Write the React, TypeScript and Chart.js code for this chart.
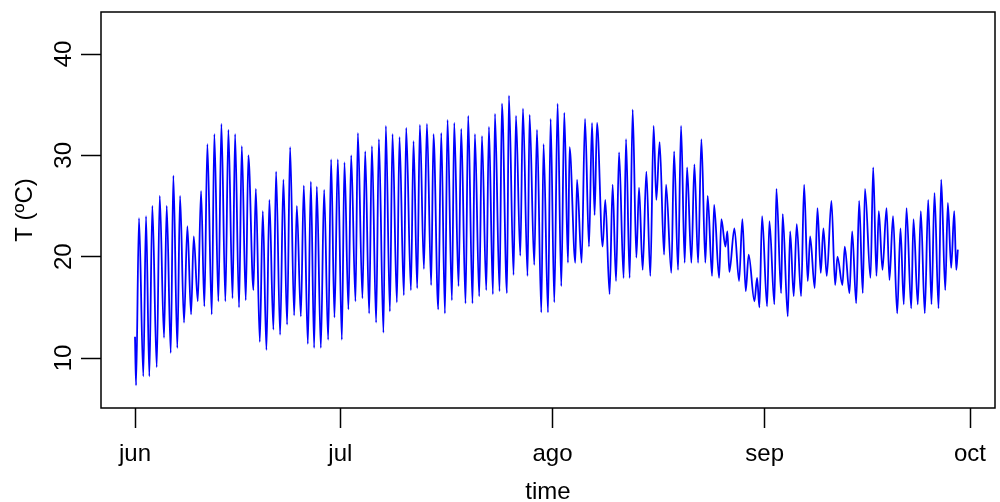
import React, { useEffect, useRef } from 'react';
import { Chart, registerables } from 'chart.js';

Chart.register(...registerables);

// Time since 1 June, in days (turning points of the hourly temperature trace)
const dayOffsets = [
  0.00, 0.15, 0.58, 1.21, 1.61, 2.09, 2.53, 3.17, 3.61, 4.24,
  4.63, 5.22, 5.60, 6.18, 6.58, 7.16, 7.65, 8.19, 8.58, 9.17,
  9.65, 10.13, 10.57, 11.21, 11.59, 12.18, 12.62, 13.20, 13.64, 14.25,
  14.62, 15.20, 15.60, 16.18, 16.56, 17.30, 17.65, 18.23, 18.67, 19.20,
  19.63, 20.22, 20.61, 21.20, 21.68, 22.22, 22.66, 23.25, 23.64, 24.23,
  24.66, 25.25, 25.69, 26.17, 26.56, 27.15, 27.63, 28.22, 28.65, 29.14,
  29.63, 30.22, 30.60, 31.18, 31.58, 32.21, 32.56, 33.23, 33.63, 34.21,
  34.61, 35.23, 35.63, 36.30, 36.65, 37.24, 37.62, 38.26, 38.64, 39.28,
  39.62, 40.31, 40.69, 41.23, 41.62, 42.21, 42.65, 43.27, 43.61, 44.30,
  44.74, 45.28, 45.66, 46.30, 46.64, 47.27, 47.66, 48.29, 48.68, 49.31,
  49.66, 50.29, 50.69, 51.32, 51.71, 52.29, 52.59, 53.26, 53.61, 54.34,
  54.63, 55.31, 55.66, 56.29, 56.68, 57.35, 57.65, 58.33, 58.73, 59.36,
  59.69, 60.34, 60.72, 61.26, 61.74, 62.28, 62.72, 63.26, 63.49, 64.33,
  64.58, 65.25, 65.75, 66.33, 66.77, 67.15, 67.50, 68.32, 68.71, 69.34,
  69.78, 70.28, 70.72, 71.39, 71.74, 72.27, 72.71, 73.25, 73.64, 74.17,
  74.71, 75.29, 75.77, 76.17, 76.65, 77.30, 77.59, 78.36, 78.76, 79.34,
  79.78, 80.31, 80.66, 81.29, 81.73, 82.27, 82.75, 83.33, 83.67, 84.31,
  84.61, 85.34, 85.67, 86.26, 86.55, 86.84, 87.57, 88.26, 88.74, 89.23,
  89.66, 90.50, 90.89, 91.23, 91.62, 92.35, 92.69, 93.42, 93.71, 94.40,
  94.63, 95.37, 95.72, 96.24, 96.68, 97.32, 97.76, 98.29, 98.64, 99.31,
  99.71, 100.19, 100.58, 101.07, 101.75, 102.29, 102.63, 103.36, 103.70, 104.39,
  104.78, 105.37, 105.80, 106.33, 106.65, 107.46, 107.85, 108.33, 108.67, 109.21,
  109.80, 110.23, 110.75, 111.36, 111.84, 112.32, 112.72, 113.41, 113.74, 114.37,
  114.81, 115.39, 115.89, 116.37, 116.81, 117.40, 117.79, 118.38, 118.76, 119.25,
  119.69, 119.99, 120.22,
];

// Temperature (ºC)
const temperatures = [
  12.1, 7.3, 23.8, 8.2, 24.0, 8.2, 25.0, 9.1, 26.0, 12.0,
  25.0, 10.5, 28.0, 11.0, 26.0, 13.5, 23.0, 14.3, 22.0, 15.6,
  26.5, 15.1, 31.1, 14.3, 32.1, 15.6, 33.1, 15.6, 32.5, 15.9,
  32.1, 15.0, 30.9, 15.7, 30.0, 16.7, 26.7, 11.6, 24.5, 10.8,
  25.6, 12.8, 28.4, 12.3, 27.6, 13.3, 30.8, 14.2, 25.0, 14.1,
  27.0, 11.4, 27.4, 11.0, 26.9, 11.0, 26.6, 11.8, 29.6, 14.0,
  29.6, 11.8, 29.3, 14.8, 30.0, 15.6, 32.2, 15.9, 30.4, 14.4,
  30.9, 13.5, 31.6, 12.5, 32.9, 14.6, 32.1, 15.5, 31.8, 16.2,
  32.7, 16.7, 31.4, 16.9, 33.0, 18.8, 33.1, 17.2, 32.1, 14.8,
  32.2, 14.4, 33.5, 15.7, 33.2, 17.1, 32.6, 15.4, 33.9, 15.4,
  32.1, 16.1, 31.9, 16.7, 32.8, 16.3, 34.1, 16.6, 35.1, 16.4,
  35.9, 18.2, 33.9, 20.1, 34.6, 18.1, 34.0, 19.2, 32.5, 14.5,
  31.1, 14.5, 33.6, 15.5, 35.1, 17.1, 34.2, 19.4, 30.8, 19.4,
  27.6, 19.4, 33.6, 21.0, 33.2, 24.1, 33.2, 21.0, 25.6, 16.3,
  27.1, 17.6, 30.3, 17.9, 31.6, 17.9, 34.5, 19.9, 26.8, 18.7,
  28.4, 18.1, 32.9, 25.6, 31.3, 20.2, 27.1, 18.4, 30.4, 18.7,
  32.9, 19.4, 28.8, 19.4, 29.1, 19.4, 31.6, 19.4, 26.0, 18.1,
  25.1, 17.9, 23.7, 21.0, 22.5, 18.5, 22.8, 17.6, 23.7, 16.6,
  20.2, 15.6, 17.9, 15.0, 24.0, 15.1, 23.5, 15.3, 26.7, 16.4,
  24.2, 14.1, 22.5, 16.1, 23.2, 16.1, 27.1, 17.6, 22.0, 16.9,
  24.8, 18.4, 22.8, 18.1, 25.5, 17.2, 20.0, 17.2, 21.0, 16.4,
  22.5, 15.4, 25.5, 16.4, 26.7, 17.9, 28.8, 18.1, 24.5, 18.7,
  24.8, 17.7, 24.0, 14.4, 22.8, 15.3, 24.8, 14.9, 23.7, 15.3,
  24.5, 14.4, 25.6, 15.3, 26.3, 14.9, 27.6, 16.7, 25.3, 18.9,
  24.5, 18.7, 20.7,
];

const monthTickDays = [0, 30, 61, 92, 122];
const monthTickLabels = ['jun', 'jul', 'ago', 'sep', 'oct'];
const tempTickValues = [10, 20, 30, 40];
const xAxisTitle = 'time';
const yAxisTitle = 'T (ºC)';

const FONT = "'Liberation Sans', Arial, Helvetica, sans-serif";

const boxPlugin = {
  id: 'rBox',
  afterDraw(chart: any) {
    const { ctx, chartArea } = chart;
    ctx.save();
    ctx.strokeStyle = '#000';
    ctx.lineWidth = 1.5;
    ctx.strokeRect(chartArea.left, chartArea.top, chartArea.right - chartArea.left, chartArea.bottom - chartArea.top);
    ctx.restore();
  },
};

export default function App() {
  const canvasRef = useRef<HTMLCanvasElement | null>(null);

  useEffect(() => {
    if (!canvasRef.current) return;
    const points = dayOffsets.map((d, i) => ({ x: d, y: temperatures[i] }));
    const chart = new Chart(canvasRef.current, {
      type: 'line',
      data: {
        datasets: [
          {
            data: points,
            borderColor: '#0000FF',
            borderWidth: 1.8,
            pointRadius: 0,
            cubicInterpolationMode: 'monotone',
            fill: false,
          },
        ],
      },
      plugins: [boxPlugin],
      options: {
        animation: false,
        responsive: false,
        devicePixelRatio: 1,
        events: [],
        layout: { padding: { left: 0, right: 5, top: 12, bottom: 0 } },
        plugins: { legend: { display: false }, tooltip: { enabled: false } },
        scales: {
          x: {
            type: 'linear',
            min: -4.97,
            max: 125.65,
            afterBuildTicks: (s: any) => {
              s.ticks = monthTickDays.map((v) => ({ value: v }));
            },
            afterFit: (s: any) => {
              s.height = 94;
              s.paddingLeft = 0;
              s.paddingRight = 0;
            },
            border: { display: false },
            grid: {
              display: true,
              drawOnChartArea: false,
              drawTicks: true,
              tickLength: 20,
              tickColor: '#000',
              tickWidth: 1.5,
            },
            ticks: {
              autoSkip: false,
              maxRotation: 0,
              minRotation: 0,
              padding: 12,
              color: '#000',
              font: { family: FONT, size: 24 },
              callback: (v: any) => {
                const i = monthTickDays.indexOf(Number(v));
                return i >= 0 ? monthTickLabels[i] : '';
              },
            },
            title: {
              display: true,
              text: xAxisTitle,
              color: '#000',
              font: { family: FONT, size: 24, lineHeight: 0.78 },
              padding: { top: 0, bottom: 0 },
            },
          },
          y: {
            type: 'linear',
            min: 5.066,
            max: 44.145,
            afterBuildTicks: (s: any) => {
              s.ticks = tempTickValues.map((v) => ({ value: v }));
            },
            afterFit: (s: any) => {
              s.width = 101;
              s.paddingTop = 0;
              s.paddingBottom = 0;
            },
            border: { display: false },
            grid: {
              display: true,
              drawOnChartArea: false,
              drawTicks: true,
              tickLength: 20,
              tickColor: '#000',
              tickWidth: 1.5,
            },
            ticks: {
              autoSkip: false,
              minRotation: 90,
              maxRotation: 90,
              crossAlign: 'center',
              padding: 3,
              color: '#000',
              font: { family: FONT, size: 24 },
              callback: (v: any) => String(v),
            },
            title: {
              display: true,
              text: yAxisTitle,
              color: '#000',
              font: { family: FONT, size: 24, lineHeight: 1.2 },
              padding: { top: 11, bottom: 0 },
            },
          },
        },
      },
    } as any);
    return () => chart.destroy();
  }, []);

  return (
    <div style={{ position: 'fixed', left: 0, top: 0, width: 1000, height: 502, background: '#fff' }}>
      <canvas ref={canvasRef} width={1000} height={502} style={{ display: 'block', width: 1000, height: 502 }} />
    </div>
  );
}
